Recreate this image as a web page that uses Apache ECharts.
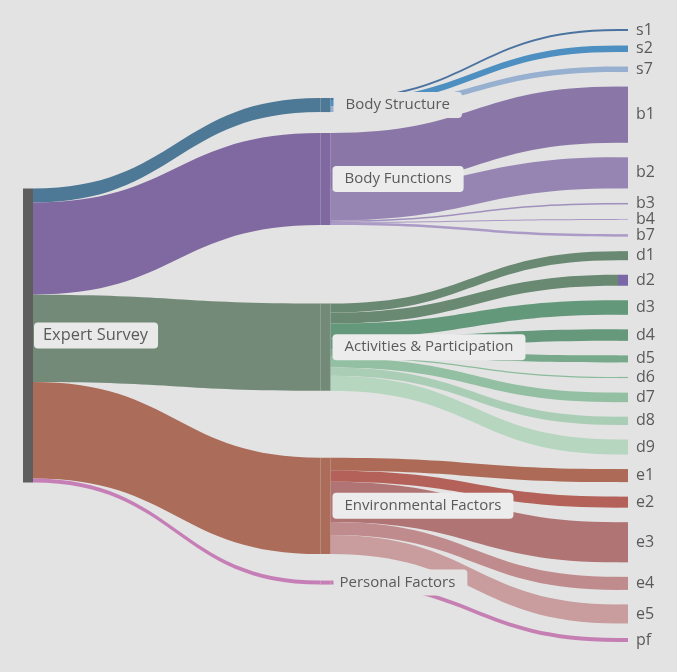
<!DOCTYPE html>
<html>
<head>
<meta charset="utf-8">
<title>Expert Survey</title>
<script src="https://cdn.jsdelivr.net/npm/echarts@6/dist/echarts.min.js"></script>
<style>
    html, body { margin: 0; padding: 0; background: #e3e3e3; }
    #chart { width: 677px; height: 672px; }
</style>
</head>
<body>
<div id="chart"></div>
<script>
// data
var rootName = 'Expert Survey';
var components = ['Body Structure', 'Body Functions', 'Activities & Participation', 'Environmental Factors', 'Personal Factors'];

var bodyStructureCodes = ['s1', 's2', 's7'];
var bodyStructureValues = [2, 6.5, 5.5];
var bodyFunctionCodes = ['b1', 'b2', 'b3', 'b4', 'b7'];
var bodyFunctionValues = [56, 31, 1.5, 0.7, 2.5];
var activityCodes = ['d1', 'd2', 'd3', 'd4', 'd5', 'd6', 'd7', 'd8', 'd9'];
var activityValues = [9, 11, 14.5, 11.5, 7, 1.2, 9.5, 8.3, 15];
var environmentCodes = ['e1', 'e2', 'e3', 'e4', 'e5'];
var environmentValues = [13, 11, 40, 13, 19];
var personalCodes = ['pf'];
var personalValues = [4];

// colours
var bgColor = '#e3e3e3';
var rootColor = '#5e5e5e';
var componentColors = ['#4d7896', '#8068a0', '#728a77', '#ac6c5a', '#c67fb6'];
var codeColors = {
    s1: '#4a73a0', s2: '#4d8fc0', s7: '#97b0cf',
    b1: '#8a77a8', b2: '#9685b3', b3: '#a090bd', b4: '#a898c3', b7: '#ab9ac6',
    d1: '#6a8972', d2: '#6a8972', d3: '#64987a', d4: '#66997c', d5: '#78a98a',
    d6: '#8abb9a', d7: '#93c0a2', d8: '#aacdb6', d9: '#b6d6c0',
    e1: '#ad6a56', e2: '#b46259', e3: '#b17475', e4: '#c08b8c', e5: '#c99c9e',
    pf: '#c57fb3'
};
var nodeColorOverride = { d2: '#7a68a6' };

var groups = [
    [bodyStructureCodes, bodyStructureValues],
    [bodyFunctionCodes, bodyFunctionValues],
    [activityCodes, activityValues],
    [environmentCodes, environmentValues],
    [personalCodes, personalValues]
];

// series box, same numbers as in the option below
var boxTop = 29, boxBottom = 30, nodeGap = 14.5;
var boxH = 672 - boxTop - boxBottom;

// order-keeping vertical placement of root and component nodes:
// right column stacked as echarts does it, root centred, each component
// pulled between its slice of the root and the centre of its codes
var pull = 0.64;
var grandTotal = 0, codeCount = 0, groupTotals = [];
groups.forEach(function (g) {
    var t = g[1].reduce(function (a, b) { return a + b; }, 0);
    groupTotals.push(t);
    grandTotal += t;
    codeCount += g[0].length;
});
var ky = (boxH - (codeCount - 1) * nodeGap) / grandTotal;
var rootTop = (boxH - grandTotal * ky) / 2;
var componentTops = [];
var yRight = 0, yRoot = rootTop;
groups.forEach(function (g, gi) {
    var weighted = 0;
    g[1].forEach(function (v) {
        weighted += (yRight + v * ky / 2) * v;
        yRight += v * ky + nodeGap;
    });
    var targetCentre = weighted / groupTotals[gi];
    var rootCentre = yRoot + groupTotals[gi] * ky / 2;
    yRoot += groupTotals[gi] * ky;
    var c = pull * targetCentre + (1 - pull) * rootCentre;
    componentTops.push(c - groupTotals[gi] * ky / 2);
});

var nodes = [];
var links = [];

nodes.push({
    name: rootName,
    localY: rootTop / boxH,
    itemStyle: { color: rootColor },
    label: {
        distance: 1,
        fontSize: 16.4,
        backgroundColor: '#e9e9e9',
        borderRadius: 4,
        padding: [5, 10, 5, 9]
    }
});

for (var i = 0; i < components.length; i++) {
    var plain = (i === 0 || i === 4);
    nodes.push({
        name: components[i],
        localY: componentTops[i] / boxH,
        itemStyle: { color: componentColors[i] },
        label: {
            distance: plain ? 3 : 2,
            fontSize: 15,
            backgroundColor: plain ? bgColor : '#ececec',
            borderRadius: 4,
            padding: i === 4 ? [6, 12, 5, 6] : [6, 12, 5, 12]
        }
    });
    var codes = groups[i][0];
    var vals = groups[i][1];
    links.push({
        source: rootName,
        target: components[i],
        value: groupTotals[i],
        lineStyle: { color: componentColors[i] }
    });
    for (var j = 0; j < codes.length; j++) {
        nodes.push({
            name: codes[j],
            itemStyle: { color: nodeColorOverride[codes[j]] || codeColors[codes[j]] }
        });
        links.push({
            source: components[i],
            target: codes[j],
            value: vals[j],
            lineStyle: { color: codeColors[codes[j]] }
        });
    }
}

var myChart = echarts.init(document.getElementById('chart'));
var option = {
    backgroundColor: bgColor,
    animation: false,
    series: [
        {
            type: 'sankey',
            left: 23,
            top: boxTop,
            right: 49,
            bottom: boxBottom,
            nodeWidth: 10,
            nodeGap: nodeGap,
            layoutIterations: 0,
            draggable: false,
            emphasis: { focus: 'none' },
            data: nodes,
            links: links,
            itemStyle: { borderWidth: 0 },
            lineStyle: { opacity: 1, curveness: 0.5 },
            label: {
                position: 'right',
                distance: 8,
                color: '#5a5a5a',
                fontFamily: 'Open Sans',
                fontSize: 16
            }
        }
    ]
};
myChart.setOption(option);
</script>
</body>
</html>
